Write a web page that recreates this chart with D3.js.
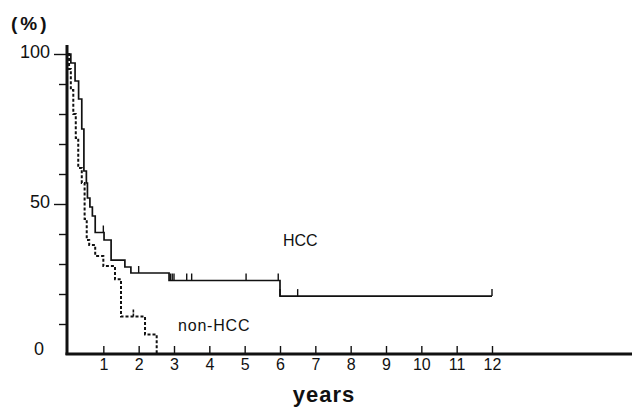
<!DOCTYPE html>
<html>
<head>
<meta charset="utf-8">
<script src="https://cdn.jsdelivr.net/npm/d3@7"></script>
<style>
    body { margin: 0; background: #fff; }
    svg text { font-family: "Liberation Sans", Arial, sans-serif; fill: #111; }
</style>
</head>
<body>
<div id="chart"></div>
<script>

//- Data (years, survival %)
const hccTimes    = [0, 0.08, 0.20, 0.30, 0.39, 0.45, 0.52, 0.55, 0.62, 0.69, 0.77, 1.02, 1.22, 1.61, 1.78, 2.86, 6.0, 12];
const hccSurvival = [100, 97, 91, 85, 75, 61, 57, 52, 49, 46, 40.5, 38, 31.3, 29, 27, 24.5, 19.3, 19.3];
const hccCensor   = [1.0, 2.0, 2.9, 2.95, 3.0, 3.36, 3.5, 5.04, 5.95, 6.0, 6.5, 12];

const nonTimes    = [0, 0.03, 0.08, 0.15, 0.22, 0.29, 0.39, 0.47, 0.53, 0.60, 0.77, 1.0, 1.33, 1.5, 2.18, 2.51];
const nonSurvival = [100, 95, 88, 80, 72, 62, 57, 45, 38, 36.3, 32.7, 29.3, 24.9, 12.5, 6.5, 0];
const nonCensor   = [1.85];

const xTicks = [1, 2, 3, 4, 5, 6, 7, 8, 9, 10, 11, 12];
const yTicks = [0, 10, 20, 30, 40, 50, 60, 70, 80, 90, 100];
const yLabels = [0, 50, 100];

const WIDTH = 632, HEIGHT = 407;


function survivalAt(times, values, t){
    // step function lookup; value in effect at time t
    let v = values[0];
    times.forEach((tt, i) => { if (tt <= t) v = values[i]; });
    return v;
}


const svg = d3.select("#chart").append("svg")
    .attr("width", WIDTH)
    .attr("height", HEIGHT);

const xScale = d3.scaleLinear().domain([0, 12]).range([68, 492]);
const yScale = d3.scaleLinear().domain([0, 100]).range([354, 54]);


//-- Curves
const stepLine = d3.line()
    .x(d => xScale(d[0]))
    .y(d => yScale(d[1]))
    .curve(d3.curveStepAfter);

svg.append("path")
    .datum(nonTimes.map((t, i) => [t, nonSurvival[i]]))
    .attr("d", stepLine)
    .attr("fill", "none")
    .attr("stroke", "#111")
    .attr("stroke-width", 2)
    .attr("stroke-dasharray", "3,2");

svg.append("path")
    .datum(hccTimes.map((t, i) => [t, hccSurvival[i]]))
    .attr("d", stepLine)
    .attr("fill", "none")
    .attr("stroke", "#111")
    .attr("stroke-width", 1.7);

//- Censor marks
svg.append("g").selectAll("line")
    .data(hccCensor)
    .enter()
    .append("line")
    .attr("x1", d => xScale(d)).attr("x2", d => xScale(d))
    .attr("y1", d => yScale(survivalAt(hccTimes, hccSurvival, d)))
    .attr("y2", d => yScale(survivalAt(hccTimes, hccSurvival, d)) - 7)
    .attr("stroke", "#111")
    .attr("stroke-width", 1.4);

svg.append("g").selectAll("line")
    .data(nonCensor)
    .enter()
    .append("line")
    .attr("x1", d => xScale(d)).attr("x2", d => xScale(d))
    .attr("y1", d => yScale(survivalAt(nonTimes, nonSurvival, d)))
    .attr("y2", d => yScale(survivalAt(nonTimes, nonSurvival, d)) - 7)
    .attr("stroke", "#111")
    .attr("stroke-width", 1.6)
    .attr("stroke-dasharray", "3,1");


//-- Axes
const xAxis = d3.axisBottom(xScale)
    .tickValues(xTicks)
    .tickSize(-8)
    .tickPadding(5);

const xg = svg.append("g")
    .attr("transform", `translate(0, ${yScale(0)})`)
    .call(xAxis);
xg.select(".domain").remove();
xg.selectAll("line").attr("stroke", "#111").attr("stroke-width", 1.4);
xg.selectAll("text").style("font-size", "16px").attr("fill", "#111");

const yAxis = d3.axisLeft(yScale)
    .tickValues(yTicks)
    .tickSize(8)
    .tickPadding(6)
    .tickFormat(d => yLabels.includes(d) ? d : "");

const yg = svg.append("g")
    .attr("transform", `translate(${xScale(0) - 1}, 0)`)
    .call(yAxis);
yg.select(".domain").remove();
yg.selectAll("line")
    .attr("x2", d => (d === 50 || d === 100) ? -13 : -8)
    .attr("stroke", "#111").attr("stroke-width", 1.4);
yg.selectAll(".tick").filter(d => d === 0).select("line").remove();
yg.selectAll("text")
    .style("font-size", "18px")
    .attr("fill", "#111")
    .attr("x", d => d === 0 ? -23 : -17)
    .attr("dy", d => d === 0 ? "0.05em" : "0.2em");

//- Axis lines
svg.append("line")
    .attr("x1", xScale(0) - 1).attr("x2", xScale(0) - 1)
    .attr("y1", 45).attr("y2", yScale(0) + 1)
    .attr("stroke", "#111").attr("stroke-width", 3);

svg.append("line")
    .attr("x1", xScale(0) - 2.5).attr("x2", WIDTH)
    .attr("y1", yScale(0)).attr("y2", yScale(0))
    .attr("stroke", "#111").attr("stroke-width", 3);


//-- Labels
svg.append("text")
    .attr("x", 11).attr("y", 30)
    .style("font-size", "19px").style("font-weight", "bold")
    .attr("letter-spacing", 3)
    .text("(%)");

svg.append("text")
    .attr("x", 324).attr("y", 402)
    .attr("text-anchor", "middle")
    .style("font-size", "22px").style("font-weight", "bold")
    .attr("letter-spacing", 1)
    .text("years");

svg.append("text")
    .attr("x", 283).attr("y", 246)
    .style("font-size", "16px")
    .text("HCC");

svg.append("text")
    .attr("x", 178).attr("y", 331)
    .style("font-size", "16px")
    .attr("letter-spacing", 0.8)
    .text("non-HCC");

</script>
</body>
</html>
